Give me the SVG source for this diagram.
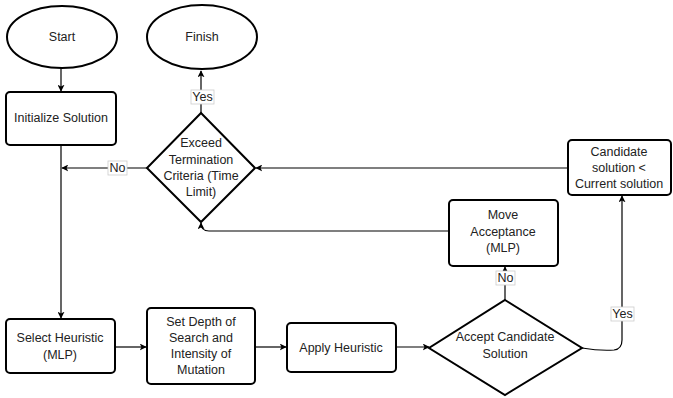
<svg xmlns="http://www.w3.org/2000/svg" width="673" height="398" viewBox="0 0 673 398">
<defs>
<marker id="ah" viewBox="0 0 10 10" refX="9" refY="5" markerWidth="7" markerHeight="7" orient="auto" markerUnits="userSpaceOnUse">
<path d="M0,0 L10,5 L0,10 L2.5,5 Z" fill="#000"/>
</marker>
<style>
.shape{fill:#fff;stroke:#000;stroke-width:2}
.t{font-family:"Liberation Sans",Arial,sans-serif;font-size:12.5px;fill:#222;text-anchor:middle}
.c{fill:none;stroke:#000;stroke-width:1.2}
.lb{fill:#fff;stroke:#ccc;stroke-width:0.8}
</style>
</defs>
<rect width="673" height="398" fill="#fff"/>
<g id="connectors">
<path class="c" d="M61,68 L61,91" marker-end="url(#ah)"/>
<path class="c" d="M61,145 L61,318" marker-end="url(#ah)"/>
<path class="c" d="M147,168 L62,168" marker-end="url(#ah)"/>
<path class="c" d="M201,113 L201,71" marker-end="url(#ah)"/>
<path class="c" d="M568,168 L256,168" marker-end="url(#ah)"/>
<path class="c" d="M449,231 L209,231 Q201,231 201,223" marker-end="url(#ah)"/>
<path class="c" d="M115,347 L146,347" marker-end="url(#ah)"/>
<path class="c" d="M255,347 L286,347" marker-end="url(#ah)"/>
<path class="c" d="M396,347 L429,347" marker-end="url(#ah)"/>
<path class="c" d="M505,300 L505,267" marker-end="url(#ah)"/>
<path class="c" d="M582,348 Q600,351 614,350 Q622,349 622,340 L622,196" marker-end="url(#ah)"/>
<g id="lbl-no1"><rect class="lb" x="108" y="161" width="19" height="14"/><text class="t" x="117.5" y="172">No</text></g>
<g id="lbl-yes1"><rect class="lb" x="191" y="90" width="23" height="14"/><text class="t" x="202.5" y="101">Yes</text></g>
<g id="lbl-no2"><rect class="lb" x="496" y="271" width="19" height="14"/><text class="t" x="505.5" y="282">No</text></g>
<g id="lbl-yes2"><rect class="lb" x="611" y="307" width="23" height="14"/><text class="t" x="622.5" y="318">Yes</text></g>
</g>
<g id="start"><ellipse class="shape" cx="62" cy="37" rx="55" ry="31"/><text class="t" x="62" y="41">Start</text></g>
<g id="finish"><ellipse class="shape" cx="202" cy="37" rx="55" ry="32"/><text class="t" x="202" y="41">Finish</text></g>
<g id="init"><rect class="shape" x="6" y="92" width="110" height="53" rx="4"/><text class="t" x="61" y="122">Initialize Solution</text></g>
<g id="exceed"><path class="shape" d="M201,113 L255,168 L201,222 L147,168 Z"/>
<text class="t" x="201" y="147">Exceed</text><text class="t" x="201" y="164">Termination</text><text class="t" x="201" y="180">Criteria (Time</text><text class="t" x="201" y="196">Limit)</text></g>
<g id="candidate"><rect class="shape" x="568" y="140" width="103" height="55" rx="4"/>
<text class="t" x="619" y="156">Candidate</text><text class="t" x="619" y="172">solution &lt;</text><text class="t" x="619" y="188">Current solution</text></g>
<g id="move"><rect class="shape" x="449" y="200" width="109" height="66" rx="4"/>
<text class="t" x="503" y="219">Move</text><text class="t" x="503" y="236">Acceptance</text><text class="t" x="503" y="252">(MLP)</text></g>
<g id="select"><rect class="shape" x="6" y="319" width="109" height="54" rx="4"/>
<text class="t" x="60" y="342">Select Heuristic</text><text class="t" x="60" y="359">(MLP)</text></g>
<g id="setdepth"><rect class="shape" x="147" y="308" width="108" height="76" rx="4"/>
<text class="t" x="201" y="326">Set Depth of</text><text class="t" x="201" y="342">Search and</text><text class="t" x="201" y="358">Intensity of</text><text class="t" x="201" y="374">Mutation</text></g>
<g id="apply"><rect class="shape" x="287" y="323" width="109" height="49" rx="4"/><text class="t" x="341" y="352">Apply Heuristic</text></g>
<g id="accept"><path class="shape" d="M505,300 L582,348 L505,395 L429,348 Z"/>
<text class="t" x="505" y="341">Accept Candidate</text><text class="t" x="505" y="358">Solution</text></g>
</svg>
